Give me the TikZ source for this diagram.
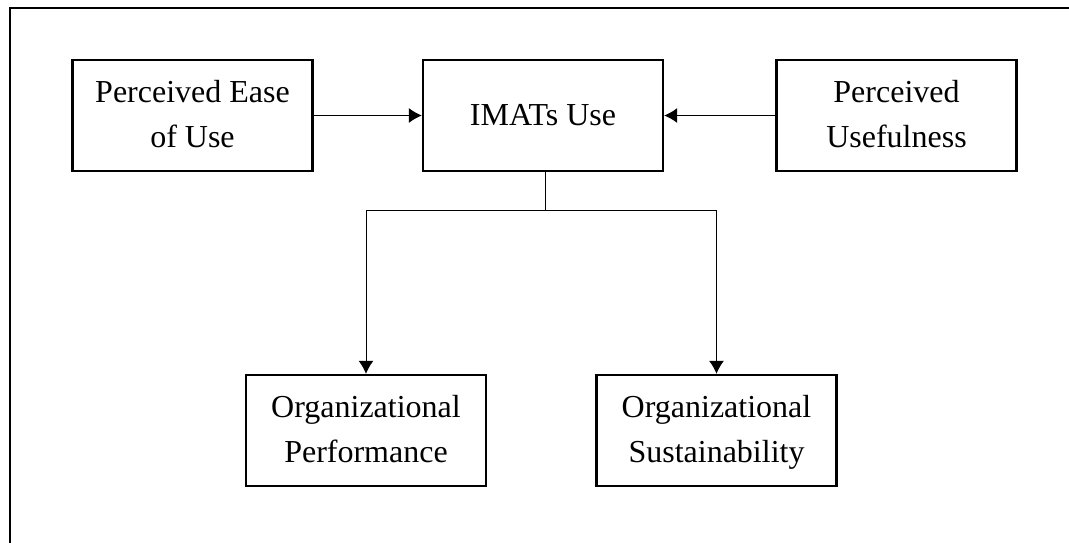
\documentclass[tikz,border=0pt]{standalone}
\usepackage{fontspec}
\setmainfont{Liberation Serif}
\usepackage{tikz}
\usetikzlibrary{arrows.meta}
\tikzset{>={Latex[length=6.5pt,width=7.5pt]}}
\tikzset{construct/.style={draw,line width=1.2pt,minimum width=120pt,minimum height=55.5pt,align=center,inner sep=0pt,font=\fontsize{16}{22.5}\selectfont}}

\begin{document}
\begin{tikzpicture}[x=0.5pt,y=-0.5pt]
\useasboundingbox (0,0) rectangle (1069,542);
\clip (0,0) rectangle (1069,542);
\draw [line width=1pt] (10,8) rectangle (1080,560);
\node [construct] (peou) at (192.5,115.5) {\strut Perceived Ease\\\strut of Use};
\node [construct] (imats) at (543,115.5) {IMATs Use};
\node [construct] (pu) at (896.5,115.5) {\strut Perceived\\\strut Usefulness};
\node [construct] (op) at (366,430.5) {\strut Organizational\\\strut Performance};
\node [construct] (os) at (716.5,430.5) {\strut Organizational\\\strut Sustainability};
\coordinate (split) at (545,210);
\draw [->,line width=0.5pt] (peou) -- (imats);
\draw [->,line width=0.5pt] (pu) -- (imats);
\draw [line width=0.5pt] (imats.south -| split) -- (split);
\draw [->,line width=0.5pt] (split) -| (op.north);
\draw [->,line width=0.5pt] (split) -| (os.north);
\end{tikzpicture}
\end{document}
